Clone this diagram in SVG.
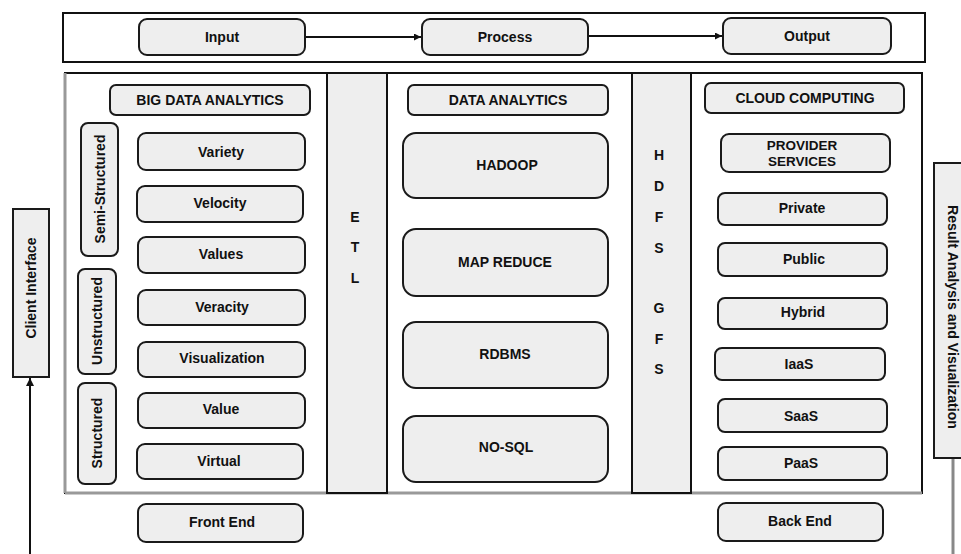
<svg xmlns="http://www.w3.org/2000/svg" width="961" height="554" viewBox="0 0 961 554">
<style>
text{font-family:"Liberation Sans",Arial,sans-serif;font-weight:bold;fill:#111;text-anchor:middle;dominant-baseline:central}
.b{fill:#eeeeee;stroke:#1a1a1a;stroke-width:2}
.t{font-size:14px}
.s{font-size:14px}
.p{font-size:13.5px}
.ln{stroke:#111;stroke-width:2;fill:none}
</style>
<defs>
<marker id="ah" viewBox="0 0 10 10" refX="10" refY="5" markerWidth="9" markerHeight="7" markerUnits="userSpaceOnUse" orient="auto"><path d="M0,0L10,5L0,10z" fill="#111"/></marker>
<marker id="ah2" viewBox="0 0 10 10" refX="10" refY="5" markerWidth="8" markerHeight="10" markerUnits="userSpaceOnUse" orient="auto"><path d="M0,0L10,5L0,10z" fill="#111"/></marker>
</defs>
<rect width="961" height="554" fill="#fff"/>
<g id="frames">
<rect x="63" y="13" width="862" height="49" fill="#fff" stroke="#111" stroke-width="2"/>
<rect x="65" y="73" width="857" height="420" fill="#fff" stroke="#111" stroke-width="2"/>
<line x1="65" y1="73" x2="65" y2="493" stroke="#999" stroke-width="3"/>
<line x1="65" y1="493" x2="922" y2="493" stroke="#999" stroke-width="3"/>
</g>
<g id="etl"><rect x="327" y="73" width="60" height="420" fill="#eee" stroke="#111" stroke-width="2"/>
<text class="t" x="355" y="217">E</text><text class="t" x="355" y="247">T</text><text class="t" x="355" y="278">L</text></g>
<g id="hdfs"><rect x="632" y="73" width="59" height="420" fill="#eee" stroke="#111" stroke-width="2"/>
<text class="t" x="659" y="155">H</text><text class="t" x="659" y="186">D</text><text class="t" x="659" y="217">F</text><text class="t" x="659" y="248">S</text><text class="t" x="659" y="308">G</text><text class="t" x="659" y="339">F</text><text class="t" x="659" y="369">S</text></g>
<g id="connectors">
<line class="ln" x1="305" y1="37" x2="421" y2="37" stroke-width="1.2" marker-end="url(#ah)"/>
<line class="ln" x1="588" y1="36" x2="722" y2="36" stroke-width="1.2" marker-end="url(#ah)"/>
<line class="ln" x1="30" y1="554" x2="30" y2="378" stroke-width="3" marker-end="url(#ah2)"/>
<line x1="953" y1="458" x2="953" y2="554" stroke="#888" stroke-width="3"/>
</g>
<g id="input"><rect class="b" x="139" y="19" width="166" height="36" rx="8"/><text class="t" x="222" y="37">Input</text></g>
<g id="process"><rect class="b" x="422" y="19" width="166" height="36" rx="8"/><text class="t" x="505" y="37">Process</text></g>
<g id="output"><rect class="b" x="723" y="18" width="168" height="36" rx="8"/><text class="t" x="807" y="36">Output</text></g>
<g id="client"><rect class="b" x="13" y="209" width="36" height="168"/><text class="s" transform="translate(31,288) rotate(-90)">Client Interface</text></g>
<g id="result"><rect class="b" x="934" y="163" width="40" height="295"/><text class="s" transform="translate(953,317) rotate(90)" textLength="224" lengthAdjust="spacingAndGlyphs">Result Analysis and Visualization</text></g>
<g id="bda"><rect class="b" x="110" y="85" width="200" height="30" rx="6"/><text class="t" x="210" y="100">BIG DATA ANALYTICS</text></g>
<g id="semi"><rect class="b" x="81" y="123" width="37" height="133" rx="7"/><text class="s" transform="translate(100,189) rotate(-90)">Semi-Structured</text></g>
<g id="unstr"><rect class="b" x="78" y="269" width="38" height="105" rx="7"/><text class="s" transform="translate(97,321) rotate(-90)">Unstructured</text></g>
<g id="str"><rect class="b" x="78" y="383" width="38" height="101" rx="7"/><text class="s" transform="translate(97,433) rotate(-90)">Structured</text></g>
<g id="variety"><rect class="b" x="138" y="133" width="167" height="37" rx="8"/><text class="t" x="221" y="152">Variety</text></g>
<g id="velocity"><rect class="b" x="137" y="186" width="166" height="36" rx="8"/><text class="t" x="220" y="203">Velocity</text></g>
<g id="values"><rect class="b" x="138" y="237" width="167" height="36" rx="8"/><text class="t" x="221" y="254">Values</text></g>
<g id="veracity"><rect class="b" x="138" y="290" width="167" height="35" rx="8"/><text class="t" x="222" y="307">Veracity</text></g>
<g id="visualization"><rect class="b" x="138" y="342" width="167" height="35" rx="8"/><text class="t" x="222" y="358">Visualization</text></g>
<g id="value"><rect class="b" x="138" y="393" width="167" height="35" rx="8"/><text class="t" x="221" y="409">Value</text></g>
<g id="virtual"><rect class="b" x="137" y="444" width="166" height="35" rx="8"/><text class="t" x="219" y="461">Virtual</text></g>
<g id="frontend"><rect class="b" x="138" y="504" width="165" height="38" rx="8"/><text class="t" x="222" y="522">Front End</text></g>
<g id="da"><rect class="b" x="408" y="85" width="200" height="30" rx="6"/><text class="t" x="508" y="100">DATA ANALYTICS</text></g>
<g id="hadoop"><rect class="b" x="403" y="133" width="205" height="65" rx="13"/><text class="t" x="507" y="165">HADOOP</text></g>
<g id="mapreduce"><rect class="b" x="403" y="229" width="205" height="67" rx="13"/><text class="t" x="505" y="262">MAP REDUCE</text></g>
<g id="rdbms"><rect class="b" x="403" y="322" width="205" height="66" rx="13"/><text class="t" x="505" y="354">RDBMS</text></g>
<g id="nosql"><rect class="b" x="403" y="416" width="205" height="66" rx="13"/><text class="t" x="506" y="447">NO-SQL</text></g>
<g id="cloud"><rect class="b" x="705" y="83" width="199" height="30" rx="6"/><text class="t" x="805" y="98">CLOUD COMPUTING</text></g>
<g id="provider"><rect class="b" x="721" y="134" width="169" height="38" rx="8"/><text class="p" x="802" y="145">PROVIDER</text><text class="p" x="802" y="161">SERVICES</text></g>
<g id="private"><rect class="b" x="718" y="193" width="169" height="32" rx="7"/><text class="t" x="802" y="208">Private</text></g>
<g id="public"><rect class="b" x="718" y="243" width="169" height="33" rx="7"/><text class="t" x="804" y="259">Public</text></g>
<g id="hybrid"><rect class="b" x="718" y="298" width="169" height="31" rx="7"/><text class="t" x="803" y="312">Hybrid</text></g>
<g id="iaas"><rect class="b" x="715" y="348" width="170" height="32" rx="7"/><text class="t" x="799" y="364">IaaS</text></g>
<g id="saas"><rect class="b" x="718" y="399" width="169" height="33" rx="7"/><text class="t" x="801" y="416">SaaS</text></g>
<g id="paas"><rect class="b" x="718" y="447" width="169" height="33" rx="7"/><text class="t" x="801" y="463">PaaS</text></g>
<g id="backend"><rect class="b" x="718" y="503" width="165" height="38" rx="8"/><text class="t" x="800" y="521">Back End</text></g>
</svg>
